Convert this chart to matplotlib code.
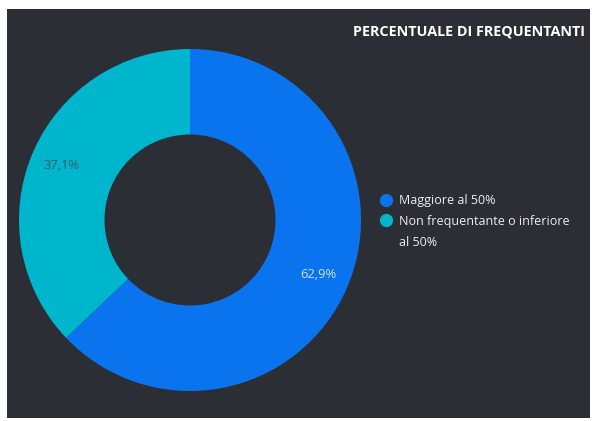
import matplotlib.pyplot as plt
from matplotlib.patches import Rectangle
from matplotlib.lines import Line2D

# data
categorie = ["Maggiore al 50%", "Non frequentante o inferiore\nal 50%"]
percentuali = [62.9, 37.1]
colori = ["#0a74ee", "#00b6cc"]
colori_testo = ["#cfe3ff", "#2f5c72"]
titolo = "PERCENTUALE DI FREQUENTANTI"

plt.rcParams['font.family'] = ['Open Sans', 'DejaVu Sans']

W, H = 596, 421
fig = plt.figure(figsize=(W / 100, H / 100), dpi=100, facecolor="white")

# dark panel
fig.patches.append(Rectangle((7 / W, 3 / H), 583 / W, 409 / H, transform=fig.transFigure,
                             facecolor="#2c2e36", edgecolor="none", zorder=-5))

# donut: center ~ (190, 220) px, radius ~171 px
cx, cy, r = 190, 220, 171
ax = fig.add_axes([(cx - r) / W, (H - cy - r) / H, 2 * r / W, 2 * r / H])
ax.set_zorder(2)
ax.set_facecolor("none")
wedges, _, pct = ax.pie(percentuali, colors=colori, startangle=90, counterclock=False,
                        radius=1, wedgeprops=dict(width=0.5, linewidth=0),
                        autopct=lambda p: f"{p:.1f}%".replace(".", ","),
                        pctdistance=0.815)
for t, c in zip(pct, colori_testo):
    t.set_color(c)
    t.set_fontsize(9.3)
ax.set_xlim(-1, 1)
ax.set_ylim(-1, 1)
ax.set_aspect("equal")
ax.axis("off")

fig.text(585 / W, 1 - 31 / H, titolo, color="white", fontsize=10.35, fontweight="bold",
         ha="right", va="center", zorder=3)

# legend: dot aligned with the first line of each label, wrapped lines without a dot
handles, labels = [], []
for cat, c in zip(categorie, colori):
    for i, riga in enumerate(cat.split("\n")):
        handles.append(Line2D([], [], marker="o", linestyle="none", markersize=9.5,
                              markerfacecolor=c if i == 0 else "none", markeredgecolor="none"))
        labels.append(riga)
leg = fig.legend(handles, labels, loc="upper left", bbox_to_anchor=(380 / W, 1 - 194 / H),
                 frameon=False, fontsize=9, labelcolor="#eeeeee", handletextpad=0.6,
                 handlelength=0.9, labelspacing=0.62, borderaxespad=0, borderpad=0)
leg.set_zorder(3)

fig.savefig("out.png", dpi=100, facecolor="white")
